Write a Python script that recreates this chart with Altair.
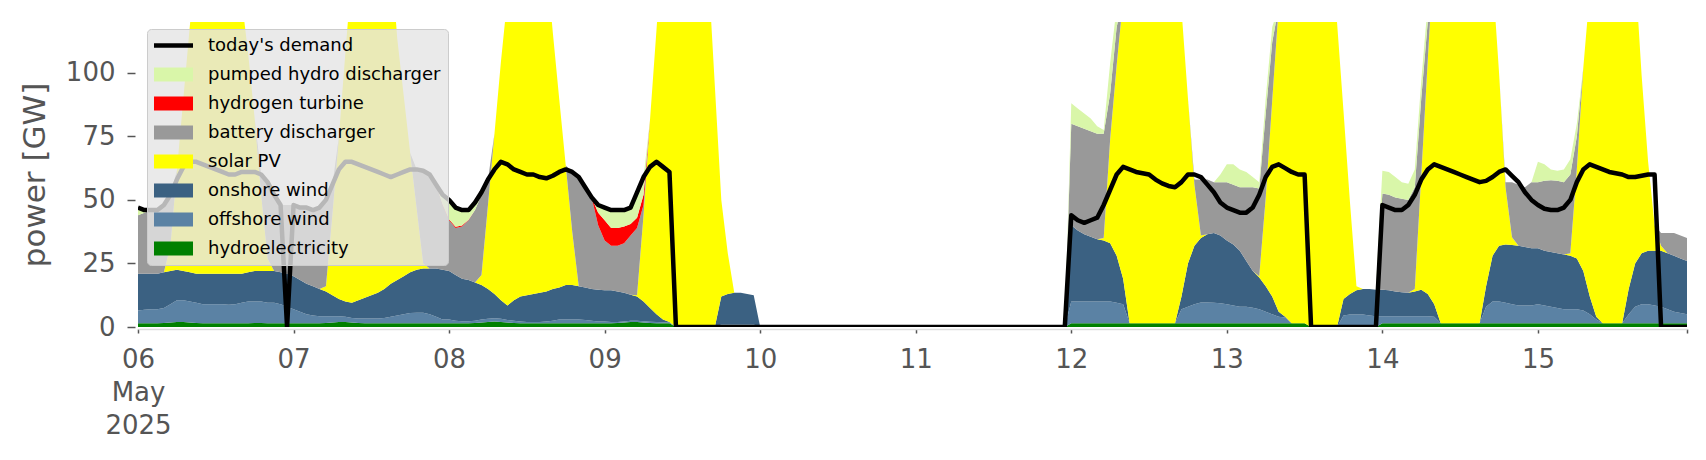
import altair as alt
import pandas as pd

# ---------------- data (GW, hourly, 06 May 2025 00:00 .. 15 May 2025 23:00) ----------------
times = pd.date_range("2025-05-06 00:00", periods=240, freq="h").strftime("%Y-%m-%dT%H:%M:%S").tolist()
zero48 = [0] * 48

demand_06 = [47, 46, 46, 46, 48, 52, 58, 63, 65, 65, 64, 63, 62, 61, 60, 60, 61, 61, 61, 60, 57, 52, 48, 0]
demand_07 = [48, 47, 47, 46, 47, 50, 56, 62, 65, 65, 64, 63, 62, 61, 60, 59, 60, 61, 62, 62, 61.5, 60, 56, 52]
demand_08 = [50, 47, 46, 46, 49, 53, 58, 62, 65, 64, 62, 61, 60, 60, 59, 58.5, 59.5, 61, 62, 61, 59, 55, 51, 48]
demand_09 = [47, 46, 46, 46, 47, 53, 59, 63, 65, 63, 61] + [0] * 13
demand_12 = [44, 42, 41, 42, 43, 48, 54, 60, 63, 62, 61, 60.5, 60, 58, 56.5, 55.5, 55, 57, 60, 60, 59, 56, 53, 49]
demand_13 = [47, 46, 45, 45, 47, 52, 59, 63, 64, 62.5, 61, 60, 60] + [0] * 11
demand_14 = [48, 47, 46, 46, 48, 52, 58, 62, 64, 63, 62, 61, 60, 59, 58, 57, 57.5, 59, 61, 62, 59.5, 57, 53, 50]
demand_15 = [48, 46.5, 46, 46, 47, 50, 57, 62, 64, 63, 62, 61, 60.5, 60, 59, 59, 59.5, 60, 60, 0, 0, 0, 0, 0]

hydro_06 = [1.5, 1.5, 1.5, 1.5, 1.6, 1.8, 2.0, 2.0, 1.8, 1.6, 1.5, 1.5, 1.5, 1.5, 1.5, 1.5, 1.5, 1.5, 1.6, 1.6, 1.5, 1.5, 1.5, 1.5]
hydro_07 = [1.5, 1.5, 1.5, 1.5, 1.5, 1.6, 1.8, 2.0, 2.0, 1.8, 1.6, 1.5, 1.5, 1.5, 1.5, 1.5, 1.5, 1.5, 1.5, 1.5, 1.5, 1.5, 1.5, 1.5]
hydro_08 = [1.5, 1.5, 1.5, 1.5, 1.6, 1.8, 2.0, 2.2, 2.0, 1.8, 1.6, 1.5, 1.5, 1.5, 1.5, 1.5, 1.5, 1.5, 1.5, 1.5, 1.5, 1.5, 1.5, 1.5]
hydro_09 = [1.5, 1.5, 1.6, 1.8, 2.0, 2.0, 1.8, 1.6, 1.5, 1.5, 1.5] + [0] * 13
hydro_12 = [1.5] * 24
hydro_13 = [1.5] * 13 + [0] * 11
hydro_14 = [1.5] * 24
hydro_15 = [1.5] * 24

offshore_06 = [5.0, 5.3, 5.5, 5.5, 5.9, 7.2, 8.5, 8.5, 8.2, 7.9, 7.5, 7.5, 7.5, 7.5, 7.3, 7.5, 8.0, 8.5, 8.4, 8.4, 8.0, 8.0, 7.5, 6.5]
offshore_07 = [5.5, 4.5, 3.5, 3.0, 2.7, 2.6, 2.4, 2.2, 2.0, 1.7, 1.7, 1.8, 1.8, 1.8, 2.0, 2.5, 3.0, 3.5, 4.0, 4.1, 4.1, 3.5, 2.5, 1.5]
offshore_08 = [1.5, 1.0, 0.8, 0.8, 0.9, 1.2, 1.2, 1.2, 1.2, 1.0, 0.9, 0.7, 0.5, 0.5, 0.5, 0.7, 1.0, 1.5, 1.5, 1.5, 1.5, 1.3, 1.0, 0.7]
offshore_09 = [0.7, 0.5, 0.4, 0.4, 0.5, 0.5, 0.5, 0.5, 0.5, 0.4, 0.3] + [0] * 7 + [1.0] * 6
offshore_12 = [8.5, 8.5, 8.5, 8.5, 8.5, 8.5, 8.5, 8.0, 7.5, 0, 0, 0, 0, 0, 0, 0, 0, 5.5, 6.5, 7.5, 8.1, 8.1, 8.0, 7.8]
offshore_13 = [7.5, 7.0, 6.5, 6.5, 6.1, 5.5, 4.5, 3.5, 2.5, 2.2, 0, 0, 0, 0, 0, 0, 0, 0, 4.5, 4.9, 4.9, 4.9, 4.5, 4.2]
offshore_14 = [2.7, 2.7, 2.7, 2.7, 2.7, 2.7, 2.7, 2.7, 2.5, 0, 0, 0, 0, 0, 0, 0, 6.5, 8.5, 8.5, 8.0, 7.5, 7.0, 7.0, 7.0]
offshore_15 = [7.5, 7.0, 6.5, 6.0, 5.5, 5.5, 5.5, 5.0, 3.5, 1.5, 0, 0, 0, 0, 3.5, 6.5, 7.5, 7.5, 7.0, 6.5, 5.5, 4.5, 4.0, 3.5]

onshore_06 = [14.5, 14.2, 14.0, 14.0, 14.0, 13.0, 12.0, 11.5, 11.5, 11.5, 12.0, 12.0, 12.0, 12.0, 12.2, 12.0, 11.5, 11.5, 12.0, 12.0, 12.5, 12.5, 12.5, 13.0]
onshore_07 = [13.0, 12.5, 12.0, 11.5, 10.8, 9.8, 8.3, 6.8, 6.0, 6.0, 7.2, 8.2, 9.2, 10.2, 11.5, 13.0, 14.0, 15.0, 16.0, 16.9, 17.4, 18.0, 19.0, 19.5]
onshore_08 = [19.0, 18.0, 16.7, 16.2, 15.0, 13.5, 11.8, 9.6, 7.3, 5.7, 8.0, 9.8, 10.5, 11.0, 11.5, 11.8, 12.5, 12.5, 13.5, 13.5, 13.0, 12.7, 12.5, 12.5]
onshore_09 = [12.3, 12.5, 12.0, 11.3, 10.2, 9.5, 7.7, 5.4, 3.0, 1.1, 0.2] + [0] * 7 + [11, 12, 12.5, 12.5, 12, 11.5]
onshore_12 = [30, 28, 26.5, 25.5, 24.5, 24, 23, 18.5, 10, 0, 0, 0, 0, 0, 0, 0, 0, 5, 17, 23, 25.4, 26.9, 27.5, 26.7]
onshore_13 = [25, 24, 22, 18, 14.4, 12.5, 10, 7, 2, 0.3, 0, 0, 0, 0, 0, 0, 0, 0, 6.5, 8.1, 9.6, 10.1, 10.5, 10.5]
onshore_14 = [10.5, 10.3, 9.8, 9.5, 9.3, 9.8, 10.5, 8.8, 5, 0, 0, 0, 0, 0, 0, 0, 8, 18, 22, 23, 23.3, 23.5, 23, 22.5]
onshore_15 = [22, 21.5, 21.5, 21.5, 21.5, 21, 20, 15.5, 7, 1, 0, 0, 0, 0, 10, 17, 20, 21, 21.5, 22, 22, 22, 21.5, 21]

solar_06 = [0, 0, 0, 0, 0, 10, 39, 68, 97, 125, 145, 155, 158, 155, 145, 128, 108, 86, 60, 30, 5, 0, 0, 0]
solar_07 = [0, 0, 0, 0, 0, 2, 32, 64, 98, 130, 150, 160, 165, 160, 150, 130, 95, 71, 47, 24, 2, 0, 0, 0]
solar_08 = [0, 0, 0, 0, 0, 4, 33, 63, 94, 121, 140, 152, 158, 155, 145, 130, 101, 74, 47, 21, 0, 0, 0, 0]
solar_09 = [0, 0, 0, 0, 0, 0.5, 34, 74, 112, 150, 170, 180, 185, 180, 170, 150, 140, 95, 38, 16, 0, 0, 0, 0]
solar_12 = [0, 0, 0, 0, 0, 1, 41, 75, 110, 140, 160, 170, 175, 172, 165, 150, 130, 113, 65, 24, 1, 0, 0, 0]
solar_13 = [0, 0, 0, 0, 0, 0.5, 35, 77, 120, 150, 165, 172, 175, 172, 165, 150, 135, 120, 74, 36, 1.5, 0, 0, 0]
solar_14 = [0, 0, 0, 0, 0, 1, 45, 92, 140, 165, 180, 185, 188, 185, 180, 170, 150, 110, 68, 22.5, 3, 0, 0, 0]
solar_15 = [0, 0, 0, 0, 0, 1, 35, 80, 120, 150, 165, 172, 175, 172, 150, 115, 70, 35, 10, 2, 0, 0, 0, 0]

battery_06 = [23, 24, 25, 25, 26.5, 20, 0, 0, 0, 0, 0, 0, 0, 0, 0, 0, 0, 0, 0, 8, 30, 30, 26.5, 27]
battery_07 = [28, 28.5, 30, 30, 32, 34, 11.5, 0, 0, 0, 0, 0, 0, 0, 0, 0, 0, 0, 0, 15.5, 36.5, 37, 33, 25.5]
battery_08 = [20, 18.5, 20.5, 23.5, 28.5, 31.5, 10, 0, 0, 0, 0, 0, 0, 0, 0, 0, 0, 0, 0, 23.5, 43, 39.5, 36, 25.3]
battery_09 = [19.5, 17.5, 18, 19.5, 23.3, 26.5, 4] + [0] * 17
battery_12 = [40, 41, 41.5, 41.5, 41.5, 41, 18, 15, 0, 0, 0, 0, 0, 0, 0, 0, 0, 0, 0, 2, 22, 21.5, 20, 21]
battery_13 = [23, 23.5, 25, 29, 33, 34.5, 33, 23] + [0] * 16
battery_14 = [37.8, 37.5, 37, 36.8, 36.5, 40, 30.3, 15, 0, 0, 0, 0, 0, 0, 0, 0, 0, 0, 0, 2, 21.7, 24, 23.5, 26]
battery_15 = [26, 27.5, 28.2, 28.5, 28.5, 31, 13, 0, 0, 0, 0, 0, 0, 0, 0, 0, 0, 0, 0, 5, 8, 9, 9, 9]

hydrogen_06 = [0] * 24
hydrogen_07 = [0] * 23 + [0.3]
hydrogen_08 = [0.4, 0.4, 0.4, 0.2] + [0] * 19 + [5]
hydrogen_09 = [8, 7, 7, 6.5, 4.5, 4, 4] + [0] * 17
hydrogen_12 = [0] * 24
hydrogen_13 = [0] * 24
hydrogen_14 = [0] * 24
hydrogen_15 = [0] * 24

pumped_06 = [3, 1] + [0] * 22
pumped_07 = [0] * 23 + [3.7]
pumped_08 = [7.6, 7.6, 6.1, 3.8, 3, 1] + [0] * 17 + [3]
pumped_09 = [5, 7, 7, 6.5, 6.5, 10, 7] + [0] * 17
pumped_12 = [8, 7, 6, 5, 3, 1.5, 12, 8] + [0] * 15 + [3]
pumped_13 = [7, 8, 7, 6, 4, 2.5, 6, 6] + [0] * 16
pumped_14 = [9, 9, 8, 6.5, 6.4, 7, 7, 7] + [0] * 16
pumped_15 = [8, 6.5, 4.3, 4, 5, 6, 5] + [0] * 17

demand = demand_06 + demand_07 + demand_08 + demand_09 + zero48 + demand_12 + demand_13 + demand_14 + demand_15
hydro = hydro_06 + hydro_07 + hydro_08 + hydro_09 + zero48 + hydro_12 + hydro_13 + hydro_14 + hydro_15
offshore = offshore_06 + offshore_07 + offshore_08 + offshore_09 + zero48 + offshore_12 + offshore_13 + offshore_14 + offshore_15
onshore = onshore_06 + onshore_07 + onshore_08 + onshore_09 + zero48 + onshore_12 + onshore_13 + onshore_14 + onshore_15
solar = solar_06 + solar_07 + solar_08 + solar_09 + zero48 + solar_12 + solar_13 + solar_14 + solar_15
battery = battery_06 + battery_07 + battery_08 + battery_09 + zero48 + battery_12 + battery_13 + battery_14 + battery_15
hydrogen = hydrogen_06 + hydrogen_07 + hydrogen_08 + hydrogen_09 + zero48 + hydrogen_12 + hydrogen_13 + hydrogen_14 + hydrogen_15
pumped = pumped_06 + pumped_07 + pumped_08 + pumped_09 + zero48 + pumped_12 + pumped_13 + pumped_14 + pumped_15

legend_names = ["today's demand", "pumped hydro discharger", "hydrogen turbine", "battery discharger",
                "solar PV", "onshore wind", "offshore wind", "hydroelectricity"]
legend_colors = ["#000000", "#d9f6a9", "#ff0000", "#999999", "#ffff00", "#3b6182", "#5b82a4", "#008000"]
stack_names = ["hydroelectricity", "offshore wind", "onshore wind", "solar PV",
               "battery discharger", "hydrogen turbine", "pumped hydro discharger"]
stack_values = [hydro, offshore, onshore, solar, battery, hydrogen, pumped]

# ---------------- tables ----------------
rows = []
for k, (name, vals) in enumerate(zip(stack_names, stack_values)):
    for t, v in zip(times, vals):
        rows.append({"time": t, "series": name, "value": v, "order": k})
df_stack = pd.DataFrame(rows)
df_demand = pd.DataFrame({"time": times, "demand": demand})
df_legend = pd.DataFrame({"series": legend_names, "time": [times[0]] * 8, "value": [0] * 8})

rect_path = "M-1,-0.36L1,-0.36L1,0.36L-1,0.36Z"
line_path = "M-1,-0.11L1,-0.11L1,0.11L-1,0.11Z"
legend_shapes = [line_path] + [rect_path] * 7

GREY = "#555555"
FONT = "DejaVu Sans"

x_scale = alt.Scale(domain=[alt.DateTime(year=2025, month=5, date=6, hours=0),
                            alt.DateTime(year=2025, month=5, date=15, hours=23)])
y_scale = alt.Scale(domain=[0, 120], nice=False)

tick_values = [alt.DateTime(year=2025, month=5, date=d) for d in range(6, 16)] + \
              [alt.DateTime(year=2025, month=5, date=15, hours=23)]

x_axis = alt.Axis(
    values=tick_values,
    labelExpr="hours(datum.value) == 23 ? '' : (date(datum.value) == 6 ? ['06', 'May', '2025'] : timeFormat(datum.value, '%d'))",
    grid=False, domain=True, domainColor="#dddddd", domainWidth=1.5,
    ticks=True, tickColor=GREY, tickSize=4, tickWidth=1.5, offset=2,
    labelFont=FONT, labelFontSize=26, labelColor=GREY, labelPadding=13,
    labelLineHeight=33, labelBaseline="top", labelAlign="center", labelFlush=False,
    labelOverlap=False, title=None,
)
y_axis = alt.Axis(
    values=[0, 25, 50, 75, 100], grid=False, domain=False,
    ticks=True, tickColor=GREY, tickSize=8, tickWidth=1.5, offset=3,
    labelFont=FONT, labelFontSize=26, labelColor=GREY, labelPadding=12,
    title="power [GW]", titleFont=FONT, titleFontSize=31, titleColor=GREY,
    titleFontWeight="normal", titlePadding=14,
)

legend_def = alt.Legend(
    title=None, orient="none", legendX=9, legendY=7,
    fillColor="rgba(229,229,229,0.8)", strokeColor="#cccccc", cornerRadius=4, padding=7,
    labelFont=FONT, labelFontSize=18, labelColor="#000000", labelOffset=15, labelLimit=400,
    symbolSize=1521, symbolStrokeWidth=0, symbolOpacity=1, clipHeight=19, rowPadding=10,
)

area = alt.Chart(df_stack).mark_area(clip=True, interpolate="linear").encode(
    x=alt.X("time:T", scale=x_scale, axis=x_axis),
    y=alt.Y("value:Q", stack="zero", scale=y_scale, axis=y_axis),
    color=alt.Color("series:N", scale=alt.Scale(domain=legend_names, range=legend_colors), legend=None),
    order=alt.Order("order:Q", sort="ascending"),
)

line = alt.Chart(df_demand).mark_line(color="#000000", strokeWidth=4.5, strokeJoin="round", clip=True).encode(
    x=alt.X("time:T", scale=x_scale),
    y=alt.Y("demand:Q", scale=y_scale),
)

points = alt.Chart(df_legend).mark_point(filled=True, opacity=0).encode(
    x=alt.X("time:T", scale=x_scale),
    y=alt.Y("value:Q", scale=y_scale),
    color=alt.Color("series:N", scale=alt.Scale(domain=legend_names, range=legend_colors), legend=legend_def),
    shape=alt.Shape("series:N", scale=alt.Scale(domain=legend_names, range=legend_shapes), legend=legend_def),
)

chart = alt.layer(area, line, points).resolve_scale(
    color="independent", shape="independent"
).resolve_legend(
    color="independent", shape="independent"
).properties(
    width=1549, height=305,
    padding={"left": 130, "top": 14, "right": 10, "bottom": 125},
    autosize=alt.AutoSizeParams(type="none"),
    background="white",
).configure_view(stroke=None)

chart.save("out.html", embed_options={"renderer": "svg", "actions": False})
